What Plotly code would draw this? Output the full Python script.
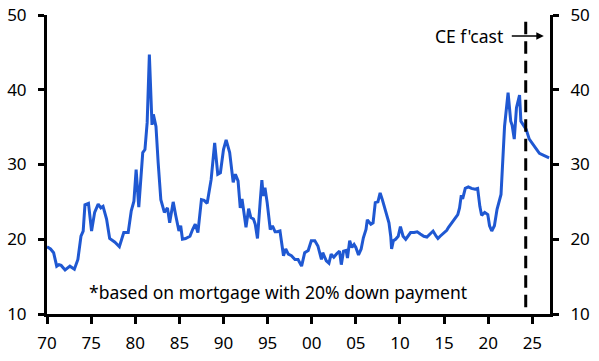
import plotly.graph_objects as go

years = [1970.0, 1970.4, 1970.75, 1971.1, 1971.35, 1971.6, 1972.05, 1972.6, 1973.1, 1973.5,
         1973.85, 1974.1, 1974.3, 1974.7, 1975.05, 1975.4, 1975.8, 1976.1, 1976.35, 1976.75,
         1977.1, 1977.7, 1978.2, 1978.7, 1979.2, 1979.55, 1979.85, 1980.1, 1980.4, 1980.85,
         1981.1, 1981.35, 1981.6, 1981.9, 1982.05, 1982.35, 1982.6, 1982.9, 1983.3, 1983.65,
         1983.9, 1984.3, 1984.6, 1984.95, 1985.15, 1985.35, 1985.7, 1986.2, 1986.5, 1986.8,
         1987.1, 1987.5, 1987.8, 1988.15, 1988.6, 1989.0, 1989.35, 1989.65, 1990.0, 1990.3,
         1990.7, 1991.1, 1991.35, 1991.65, 1991.9, 1992.1, 1992.55, 1992.85, 1993.1, 1993.4,
         1993.6, 1993.85, 1994.15, 1994.35, 1994.5, 1994.7, 1994.95, 1995.3, 1995.55, 1995.85,
         1996.1, 1996.4, 1996.8, 1997.05, 1997.35, 1997.7, 1998.1, 1998.45, 1998.85, 1999.2,
         1999.6, 1999.95, 2000.35, 2000.7, 2001.1, 2001.25, 2001.65, 2001.95, 2002.2, 2002.5,
         2002.85, 2003.15, 2003.35, 2003.6, 2003.9, 2004.05, 2004.3, 2004.55, 2004.8, 2005.0,
         2005.3, 2005.6, 2005.85, 2006.15, 2006.3, 2006.7, 2006.95, 2007.2, 2007.5, 2007.75,
         2008.0, 2008.4, 2008.75, 2008.95, 2009.05, 2009.25, 2009.5, 2009.8, 2010.05, 2010.35,
         2010.65, 2010.9, 2011.2, 2011.6, 2011.95, 2012.3, 2012.7, 2013.05, 2013.45, 2013.75,
         2014.1, 2014.3, 2014.55, 2014.95, 2015.3, 2015.5, 2015.9, 2016.25, 2016.55, 2016.75,
         2016.95, 2017.1, 2017.4, 2017.75, 2018.1, 2018.5, 2018.8, 2019.05, 2019.25, 2019.6,
         2019.95, 2020.15, 2020.4, 2020.7, 2021.0, 2021.45, 2021.85, 2022.25, 2022.55, 2022.7,
         2022.95, 2023.2, 2023.55, 2023.7, 2024.0, 2024.3, 2024.65, 2025.25, 2025.8, 2026.35,
         2026.9]

affordability = [19.0, 18.7, 18.2, 16.4, 16.6, 16.5, 15.9, 16.4, 16.0, 17.3,
                 20.4, 21.1, 24.6, 24.8, 21.1, 23.6, 24.7, 24.2, 24.4, 22.7,
                 20.1, 19.6, 19.0, 20.9, 20.9, 23.8, 25.1, 29.3, 24.3, 31.6,
                 32.0, 35.6, 44.7, 35.3, 36.7, 35.1, 30.2, 25.3, 23.6, 24.2,
                 22.2, 25.0, 23.1, 21.1, 21.8, 20.0, 20.1, 20.4, 21.3, 22.0,
                 20.9, 25.3, 25.2, 24.8, 28.0, 32.9, 28.7, 28.9, 32.0, 33.3,
                 31.6, 27.6, 28.7, 27.8, 24.2, 25.4, 21.6, 24.1, 22.9, 22.7,
                 22.0, 20.1, 24.9, 27.9, 25.8, 26.9, 24.9, 21.3, 21.8, 21.0,
                 21.0, 21.1, 17.8, 18.7, 18.0, 17.8, 17.3, 17.3, 16.4, 18.2,
                 18.5, 19.8, 19.8, 19.1, 17.3, 18.2, 17.1, 16.8, 18.0, 17.6,
                 18.1, 18.4, 16.6, 18.4, 18.5, 17.5, 19.8, 18.9, 19.3, 18.9,
                 17.9, 18.7, 20.2, 21.3, 22.6, 22.0, 22.2, 24.9, 25.0, 26.2,
                 25.3, 23.8, 22.2, 20.4, 18.7, 19.8, 20.0, 20.4, 21.7, 20.4,
                 20.0, 20.4, 20.9, 20.9, 21.0, 20.7, 20.4, 20.3, 20.8, 21.1,
                 20.4, 20.1, 20.4, 20.9, 21.2, 21.6, 22.3, 22.8, 23.3, 24.2,
                 25.9, 25.4, 26.8, 27.0, 26.8, 26.7, 26.8, 24.4, 23.2, 23.6,
                 23.3, 21.8, 21.1, 21.8, 24.0, 26.0, 35.1, 39.6, 35.8, 35.3,
                 33.4, 37.6, 39.3, 35.8, 35.3, 34.7, 33.4, 32.4, 31.5, 31.2,
                 30.9]

tick_years = [1970, 1975, 1980, 1985, 1990, 1995, 2000, 2005, 2010, 2015, 2020, 2025]
tick_labels = ["70", "75", "80", "85", "90", "95", "00", "05", "10", "15", "20", "25"]
y_ticks = [10, 20, 30, 40, 50]
forecast_start = 2024.25

FONT = "Noto Sans"
fig = go.Figure()
fig.add_trace(go.Scatter(x=years, y=affordability, mode="lines",
                         line=dict(color="#1F58D2", width=3), showlegend=False))
fig.add_trace(go.Scatter(x=[years[0]], y=[affordability[0]], yaxis="y2", mode="lines",
                         line=dict(width=0), showlegend=False, hoverinfo="skip"))

fig.add_shape(type="line", x0=forecast_start, x1=forecast_start, y0=49.1, y1=10.9,
              xref="x", yref="y", line=dict(color="black", width=3, dash="12.5px,7px"))

fig.add_annotation(x=2026.3, y=47.2, ax=2022.5, ay=47.2, axref="x", ayref="y",
                   xref="x", yref="y", text="", showarrow=True, arrowhead=2,
                   arrowsize=1, arrowwidth=1.5, arrowcolor="black")
fig.add_annotation(x=2021.9, y=47.2, xref="x", yref="y", text="CE f'cast",
                   showarrow=False, xanchor="right", yanchor="middle",
                   font=dict(family=FONT, size=17.5, color="black"))
fig.add_annotation(x=1996.2, y=12.9, xref="x", yref="y",
                   text="*based on mortgage with 20% down payment",
                   showarrow=False, xanchor="center", yanchor="middle",
                   font=dict(family=FONT, size=17.5, color="black"))

axis_font = dict(family=FONT, size=17, color="black")
fig.update_layout(
    width=599, height=361,
    margin=dict(l=47, r=49, t=15, b=47),
    paper_bgcolor="white", plot_bgcolor="white",
    xaxis=dict(range=[1970, 2027], tickvals=tick_years, ticktext=tick_labels,
               showgrid=False, zeroline=False, showline=True, linecolor="black",
               linewidth=3, ticks="outside", ticklen=7, tickwidth=2.5,
               tickcolor="black", tickfont=axis_font, automargin=False,
               ticklabelstandoff=5, ticklabeloverflow="allow"),
    yaxis=dict(range=[10, 50], tickvals=y_ticks, showgrid=False, zeroline=False,
               showline=True, linecolor="black", linewidth=3, ticks="outside",
               ticklen=6, tickwidth=2.5, tickcolor="black", tickfont=axis_font,
               ticklabelstandoff=8, automargin=False, ticklabeloverflow="allow"),
    yaxis2=dict(range=[10, 50], tickvals=y_ticks, overlaying="y", side="right",
                showgrid=False, zeroline=False, showline=True, linecolor="black",
                linewidth=3, ticks="outside", ticklen=6, tickwidth=2.5,
                tickcolor="black", tickfont=axis_font, ticklabelstandoff=8,
                automargin=False, ticklabeloverflow="allow"),
)

fig.write_html("out.html", config={"displayModeBar": False},
               post_script="document.body.style.margin='0';document.body.style.overflow='hidden';")
